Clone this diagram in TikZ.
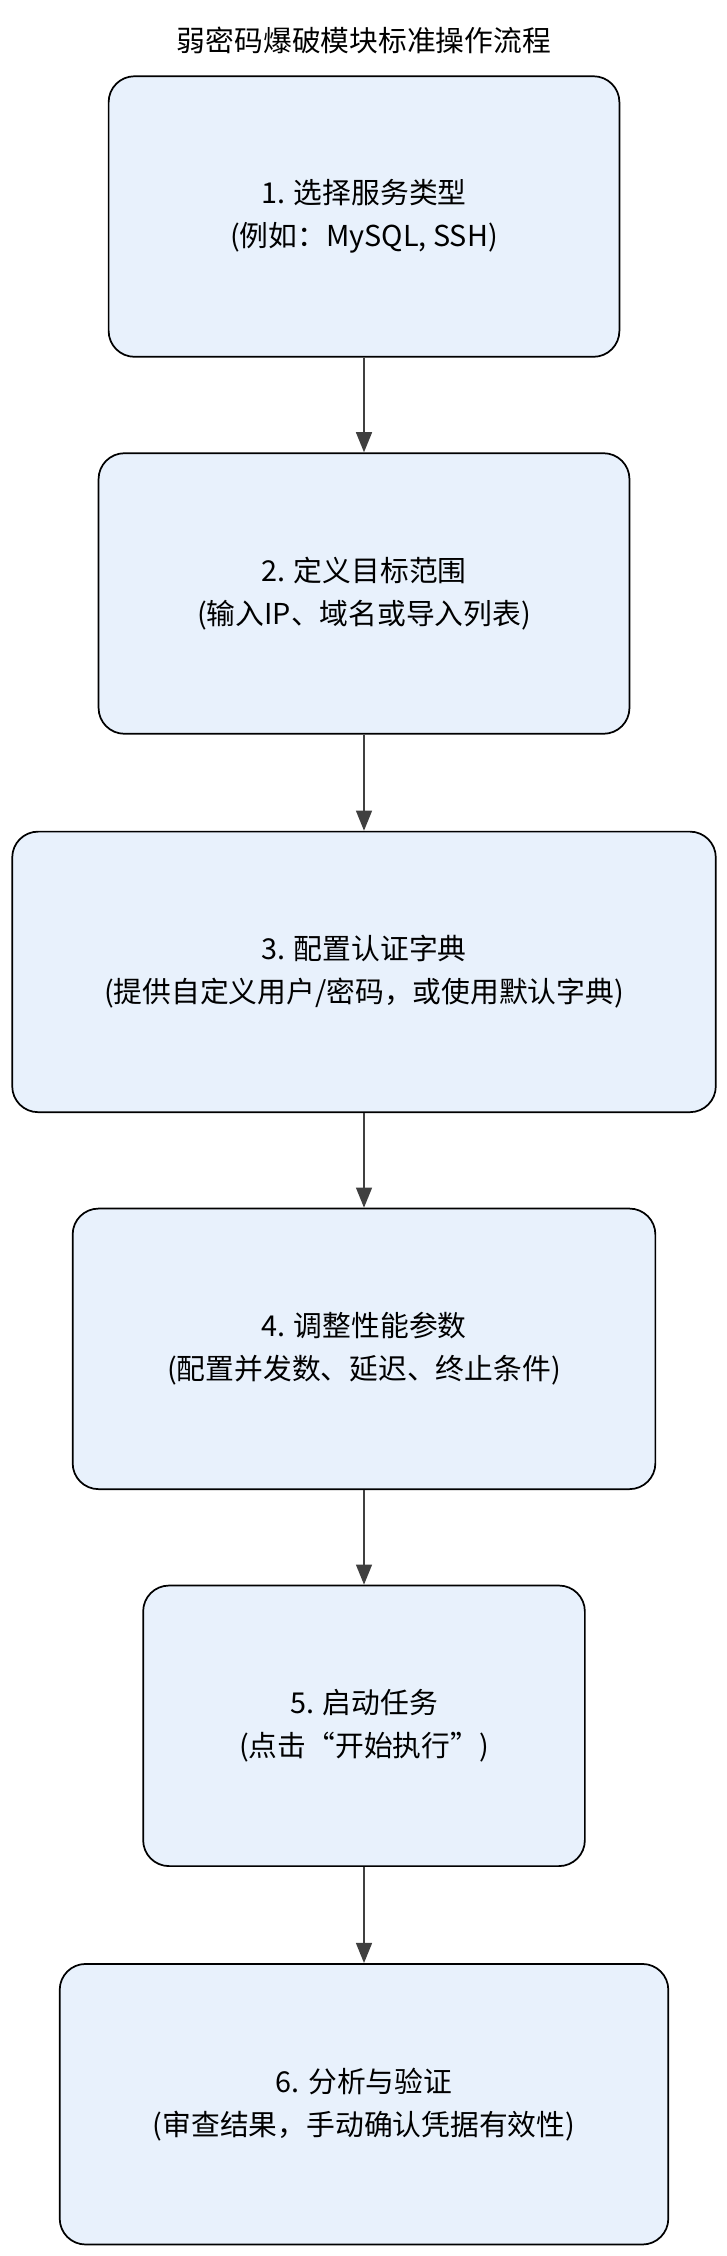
\documentclass[tikz,border=0pt]{standalone}
\usepackage{fontspec}
\setmainfont{Noto Sans CJK SC}
\usetikzlibrary{arrows.meta, positioning}
\definecolor{StepFill}{HTML}{E8F1FC}
\definecolor{LinkGray}{HTML}{404040}

\begin{document}
\begin{tikzpicture}[x=1pt,y=-1pt,
    stepbox/.style={draw=black, line width=1.2pt, fill=StepFill, rounded corners=18pt,
                 minimum height=195pt, align=center, font=\fontsize{20}{30}\selectfont},
    link/.style={draw=LinkGray, line width=1.4pt, -{Triangle[length=14pt,width=11pt]}}]
    \useasboundingbox (0,0) rectangle (505,1568);

    % Title
    \node[font=\fontsize{20}{24}\selectfont] (title) at (253,28) {弱密码爆破模块标准操作流程};

    % Steps
    \node[stepbox, minimum width=355pt] (s1) at (253,150.5) {1. 选择服务类型\\(例如：MySQL, SSH)};
    \node[stepbox, minimum width=369pt] (s2) at (253,412.5) {2. 定义目标范围\\(输入IP、域名或导入列表)};
    \node[stepbox, minimum width=489pt] (s3) at (253,675.5) {3. 配置认证字典\\(提供自定义用户/密码，或使用默认字典)};
    \node[stepbox, minimum width=405pt] (s4) at (253,937.5) {4. 调整性能参数\\(配置并发数、延迟、终止条件)};
    \node[stepbox, minimum width=307pt] (s5) at (253,1199.5) {5. 启动任务\\(点击“开始执行”)};
    \node[stepbox, minimum width=423pt] (s6) at (253,1462.5) {6. 分析与验证\\(审查结果，手动确认凭据有效性)};

    % Links
    \foreach \a/\b in {s1/s2, s2/s3, s3/s4, s4/s5, s5/s6} {
        \draw[link] (\a) -- (\b);
    }
\end{tikzpicture}
\end{document}
